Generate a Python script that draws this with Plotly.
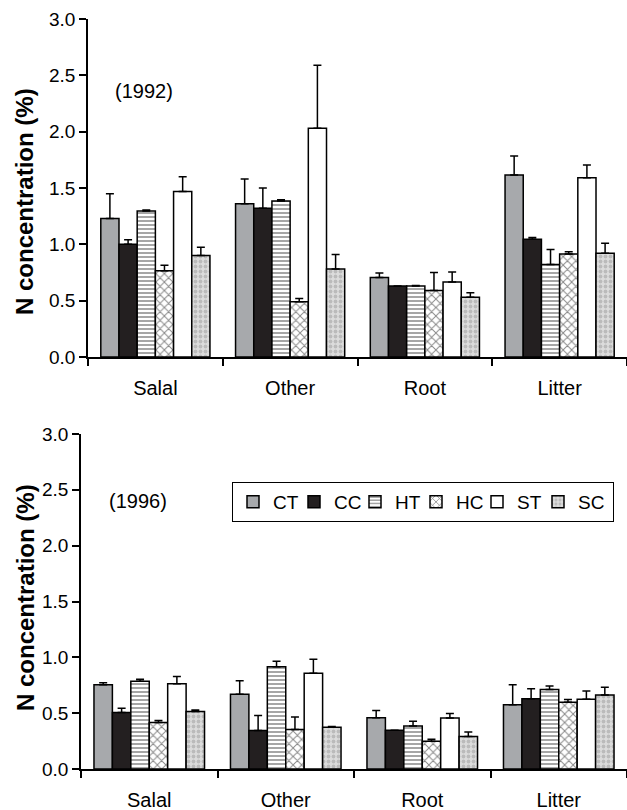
import plotly.graph_objects as go

categories = ["Salal", "Other", "Root", "Litter"]
treatments = ["CT", "CC", "HT", "HC", "ST", "SC"]

# 1992 means and standard errors (upper only)
y1992_CT = [1.23, 1.36, 0.705, 1.615]
y1992_CC = [1.00, 1.32, 0.63, 1.045]
y1992_HT = [1.295, 1.385, 0.63, 0.82]
y1992_HC = [0.765, 0.49, 0.59, 0.915]
y1992_ST = [1.47, 2.03, 0.665, 1.59]
y1992_SC = [0.90, 0.78, 0.53, 0.92]
e1992_CT = [0.22, 0.22, 0.04, 0.17]
e1992_CC = [0.04, 0.18, 0.0, 0.015]
e1992_HT = [0.01, 0.01, 0.005, 0.135]
e1992_HC = [0.05, 0.03, 0.16, 0.02]
e1992_ST = [0.13, 0.56, 0.09, 0.115]
e1992_SC = [0.075, 0.13, 0.04, 0.09]

# 1996 means and standard errors (upper only)
y1996_CT = [0.755, 0.67, 0.46, 0.575]
y1996_CC = [0.505, 0.345, 0.347, 0.63]
y1996_HT = [0.785, 0.915, 0.385, 0.713]
y1996_HC = [0.417, 0.353, 0.248, 0.598]
y1996_ST = [0.764, 0.858, 0.456, 0.625]
y1996_SC = [0.514, 0.375, 0.29, 0.662]
e1996_CT = [0.018, 0.12, 0.064, 0.18]
e1996_CC = [0.04, 0.133, 0.0, 0.088]
e1996_HT = [0.019, 0.049, 0.042, 0.03]
e1996_HC = [0.018, 0.112, 0.018, 0.024]
e1996_ST = [0.064, 0.124, 0.042, 0.073]
e1996_SC = [0.015, 0.005, 0.042, 0.069]

data1992 = [y1992_CT, y1992_CC, y1992_HT, y1992_HC, y1992_ST, y1992_SC]
err1992 = [e1992_CT, e1992_CC, e1992_HT, e1992_HC, e1992_ST, e1992_SC]
data1996 = [y1996_CT, y1996_CC, y1996_HT, y1996_HC, y1996_ST, y1996_SC]
err1996 = [e1996_CT, e1996_CC, e1996_HT, e1996_HC, e1996_ST, e1996_SC]

FONT = "Arial, Liberation Sans, sans-serif"

styles = {
    "CT": dict(color="#a7a9ac"),
    "CC": dict(color="#231f20"),
    "HT": dict(color="white", pattern=dict(shape="-", fgcolor="black", bgcolor="white",
                                           size=4, solidity=0.35)),
    "HC": dict(color="white", pattern=dict(shape="x", fgcolor="#111111", bgcolor="white",
                                           size=6, solidity=0.3)),
    "ST": dict(color="white"),
    "SC": dict(color="#d4d4d4", pattern=dict(shape=".", fgcolor="#9a9a9a", bgcolor="#dcdcdc",
                                             size=5, solidity=0.45)),
}

fig = go.Figure()

for panel, (data, err) in enumerate([(data1992, err1992), (data1996, err1996)]):
    xa = "x" if panel == 0 else "x2"
    ya = "y" if panel == 0 else "y2"
    for i, t in enumerate(treatments):
        m = dict(styles[t])
        m["line"] = dict(color="black", width=1.5)
        fig.add_trace(go.Bar(
            x=categories, y=data[i], name=t,
            marker=m,
            error_y=dict(type="data", array=err[i], arrayminus=[0] * len(categories),
                         symmetric=False, color="black", thickness=1.5, width=4),
            xaxis=xa, yaxis=ya,
            showlegend=(panel == 1),
            legendwidth=(30 if i == len(treatments) - 1 else 16),
        ))

W, H = 627, 810
def px(x):
    return x / W
def py(y):
    return (H - y) / H

xcommon = dict(type="category", showline=True, linecolor="black", linewidth=1.5,
               ticks="outside", tickson="boundaries", ticklen=7, tickwidth=1.5,
               tickcolor="black", ticklabelstandoff=12, automargin=False,
               tickfont=dict(family=FONT, size=20, color="black"),
               showgrid=False, zeroline=False, fixedrange=True)
ycommon = dict(range=[0, 3], dtick=0.5, tick0=0, tickformat=".1f", showline=True,
               linecolor="black", linewidth=1.5, ticks="outside", ticklen=7,
               tickwidth=1.5, tickcolor="black", automargin=False,
               tickfont=dict(family=FONT, size=19, color="black"),
               showgrid=False, zeroline=False, fixedrange=True)

ann_font = dict(family=FONT, size=20, color="black")
title_font = dict(family=FONT, size=24, color="black")

fig.update_layout(
    width=W, height=H,
    margin=dict(l=0, r=0, t=0, b=0),
    paper_bgcolor="white", plot_bgcolor="white",
    barmode="group", bargap=0.19, bargroupgap=0,
    xaxis=dict(domain=[px(88), 1.0], anchor="y", **xcommon),
    yaxis=dict(domain=[py(357), py(19)], anchor="x", **ycommon),
    xaxis2=dict(domain=[px(81), 1.0], anchor="y2", **xcommon),
    yaxis2=dict(domain=[py(769), py(434)], anchor="x2", **ycommon),
    showlegend=True,
    legend=dict(orientation="h", x=px(232), y=py(482), xanchor="left", yanchor="top",
                bordercolor="black", borderwidth=1, bgcolor="white",
                font=dict(family=FONT, size=19, color="black"),
                traceorder="normal", itemwidth=30),
    annotations=[
        dict(text="(1992)", x=px(144), y=py(91), xref="paper", yref="paper",
             xanchor="center", yanchor="middle", showarrow=False, font=ann_font),
        dict(text="(1996)", x=px(138), y=py(501), xref="paper", yref="paper",
             xanchor="center", yanchor="middle", showarrow=False, font=ann_font),
        dict(text="<b>N concentration (%)</b>", x=px(25), y=py(202), xref="paper",
             yref="paper", xanchor="center", yanchor="middle", textangle=-90,
             showarrow=False, font=title_font),
        dict(text="<b>N concentration (%)</b>", x=px(25), y=py(598), xref="paper",
             yref="paper", xanchor="center", yanchor="middle", textangle=-90,
             showarrow=False, font=title_font),
    ],
)

fig.write_html("out.html")
